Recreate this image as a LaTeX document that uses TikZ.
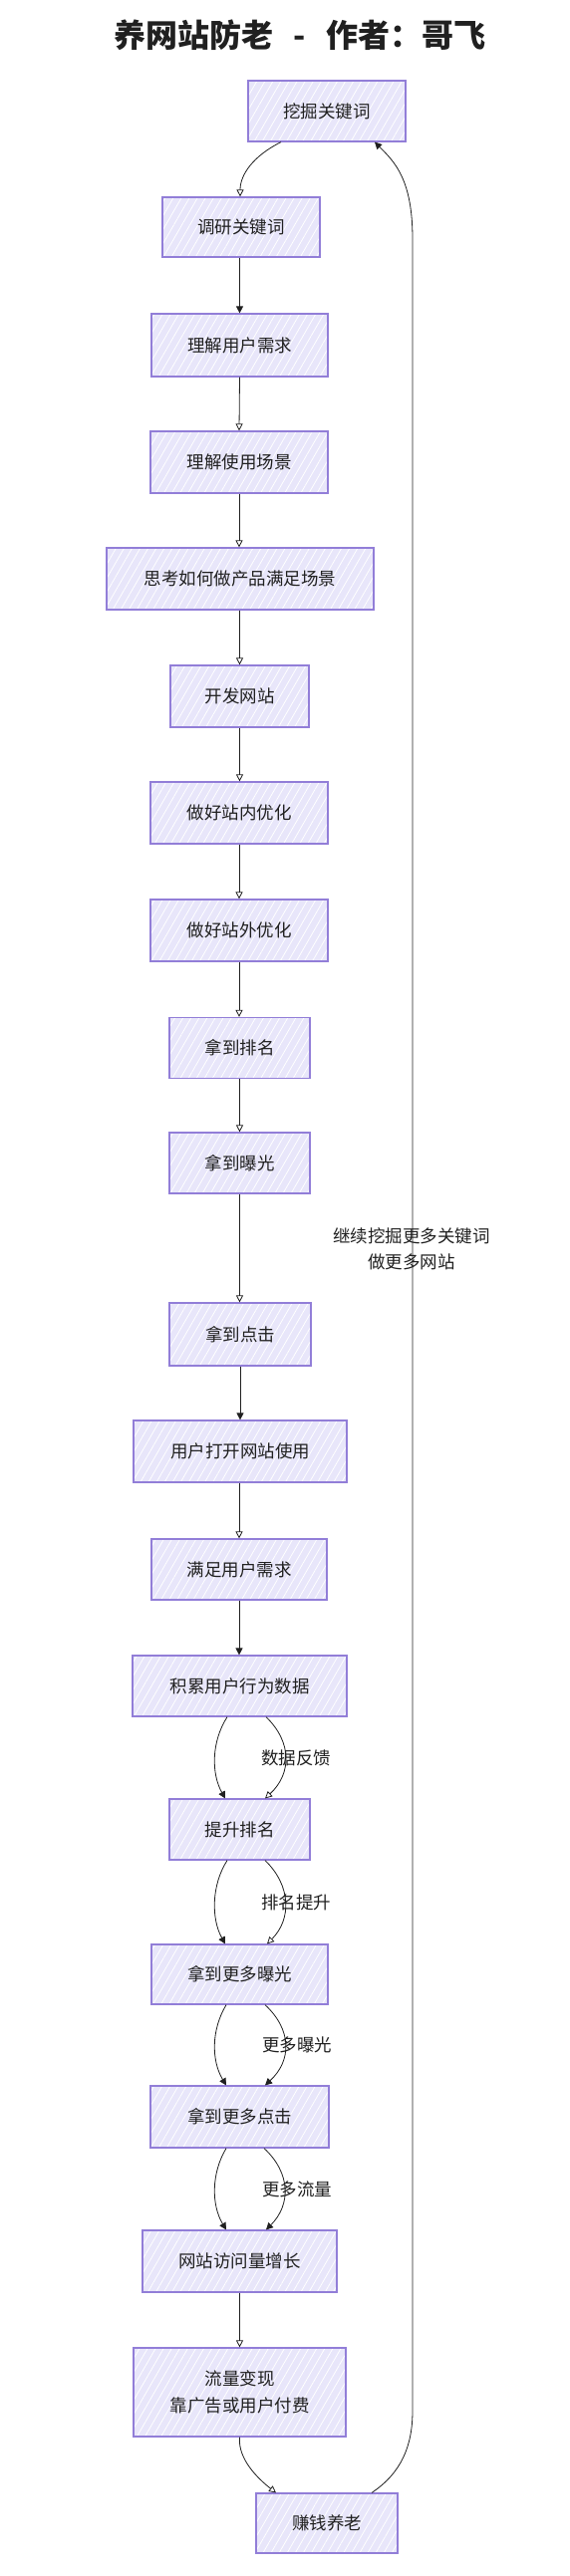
\documentclass[tikz,border=0pt]{standalone}
\usepackage{fontspec}
\setmainfont{Noto Sans CJK SC}
\usetikzlibrary{arrows.meta,patterns.meta,calc}
\definecolor{boxfill}{RGB}{232,230,250}
\definecolor{boxstroke}{RGB}{146,126,216}
\definecolor{ink}{RGB}{32,32,32}
\begin{document}
\begin{tikzpicture}[x=1pt,y=-1pt,
  box/.style={draw=boxstroke, line width=1.2pt, inner sep=0pt, align=center,
    text=ink, font=\fontsize{17.5}{26.5}\selectfont,
    preaction={fill=boxfill},
    preaction={pattern={Lines[angle=60,distance=7pt,line width=0.8pt]}, pattern color=white, fill opacity=0.55}},
  lbl/.style={text=ink, font=\fontsize{17.5}{26.5}\selectfont, align=center, inner sep=0pt},
  conn/.style={draw=ink, line width=0.8pt},
  tipo/.style={conn, -{Triangle[open,length=7pt,width=7pt]}},
  tipf/.style={conn, -{Triangle[length=7pt,width=7pt]}},
]
\useasboundingbox (0,0) rectangle (572,2586);
\fill[white] (0,0) rectangle (572,2586);

\node[text=ink, font=\fontsize{32}{38}\selectfont\bfseries, inner sep=0pt] (title) at (301,35)
  {养网站防老\hspace{20pt}-\hspace{20pt}作者：哥飞};

\node[box, minimum width=158, minimum height=61] (dig)  at (328,111.5) {挖掘关键词};
\node[box, minimum width=158, minimum height=60] (res)  at (242,228) {调研关键词};
\node[box, minimum width=177, minimum height=63] (und)  at (240.5,346.5) {理解用户需求};
\node[box, minimum width=178, minimum height=62] (sce)  at (240,464) {理解使用场景};
\node[box, minimum width=268, minimum height=62] (thk)  at (241,581) {思考如何做产品满足场景};
\node[box, minimum width=139, minimum height=62] (dev)  at (240.5,699) {开发网站};
\node[box, minimum width=178, minimum height=62] (onp)  at (240,816) {做好站内优化};
\node[box, minimum width=178, minimum height=62] (ofp)  at (240,934) {做好站外优化};
\node[box, minimum width=141, minimum height=61] (rank) at (240.5,1052) {拿到排名};
\node[box, minimum width=141, minimum height=61] (expo) at (240.5,1167.5) {拿到曝光};
\node[box, minimum width=142, minimum height=63] (clk)  at (241,1339.5) {拿到点击};
\node[box, minimum width=214, minimum height=62] (open) at (241,1457) {用户打开网站使用};
\node[box, minimum width=176, minimum height=61] (sat)  at (240,1575.5) {满足用户需求};
\node[box, minimum width=215, minimum height=61] (acc)  at (240.5,1692.5) {积累用户行为数据};
\node[box, minimum width=141, minimum height=61] (up)   at (240.5,1836.5) {提升排名};
\node[box, minimum width=177, minimum height=60] (mexp) at (240.5,1982) {拿到更多曝光};
\node[box, minimum width=179, minimum height=62] (mclk) at (240.5,2125) {拿到更多点击};
\node[box, minimum width=195, minimum height=62] (traf) at (240.5,2270) {网站访问量增长};
\node[box, minimum width=213, minimum height=89] (mon)  at (240.5,2401.5) {流量变现\\靠广告或用户付费};
\node[box, minimum width=142, minimum height=60] (earn) at (328,2533) {赚钱养老};

% labels
\node[lbl] (l1) at (297,1765) {数据反馈};
\node[lbl] (l2) at (297,1910) {排名提升};
\node[lbl] (l3) at (298,2053) {更多曝光};
\node[lbl] (l4) at (298,2198) {更多流量};
\node[lbl] (l5) at (413,1254) {继续挖掘更多关键词\\做更多网站};

% top curve
\draw[tipo] ([xshift=-46pt]dig.south) .. controls +(-28,14) and +(0,-22) .. ([xshift=-1pt]res.north);
% straight connectors
\draw[tipf] (res.south -| und.north) -- (und.north);
\draw[tipo] (und.south) -- (sce.north);
\draw[tipo] (sce.south) -- (sce.south |- thk.north);
\draw[tipo] (thk.south -| dev.north) -- (dev.north);
\draw[tipo] (dev.south) -- (dev.south |- onp.north);
\draw[tipo] (onp.south) -- (ofp.north);
\draw[tipo] (ofp.south) -- (ofp.south |- rank.north);
\draw[tipo] (rank.south) -- (expo.north);
\draw[tipo] (expo.south) -- (expo.south |- clk.north);
\draw[tipf] (clk.south) -- (clk.south |- open.north);
\draw[tipo] (open.south -| sat.north) -- (sat.north);
\draw[tipf] (sat.south) -- (sat.south |- acc.north);
\draw[tipo] (traf.south) -- (traf.south |- mon.north);

% double curves
\draw[tipf] ([xshift=-12.5pt]acc.south) .. controls +(-16,25) and +(-14,-25) .. ([xshift=-14.5pt]up.north);
\draw[tipo] ([xshift=26.5pt]acc.south) .. controls +(26,25) and +(27,-25) .. ([xshift=25.5pt]up.north);
\draw[tipf] ([xshift=-12.5pt]up.south) .. controls +(-16,25) and +(-14,-25) .. ([xshift=-14.5pt]mexp.north);
\draw[tipo] ([xshift=25.5pt]up.south) .. controls +(26,25) and +(25,-25) .. ([xshift=27.5pt]mexp.north);
\draw[tipf] ([xshift=-13.5pt]mexp.south) .. controls +(-15,25) and +(-15,-25) .. ([xshift=-13.5pt]mclk.north);
\draw[tipf] ([xshift=25.5pt]mexp.south) .. controls +(27,25) and +(27,-25) .. ([xshift=25.5pt]mclk.north);
\draw[tipf] ([xshift=-13.5pt]mclk.south) .. controls +(-15,25) and +(-15,-25) .. ([xshift=-13.5pt]traf.north);
\draw[tipf] ([xshift=24.5pt]mclk.south) .. controls +(27,25) and +(25,-25) .. ([xshift=26.5pt]traf.north);

% to earn
\draw[tipo] (mon.south) .. controls +(-2,22) and +(-18,-14) .. ([xshift=-51pt]earn.north);

% loop back
\coordinate (lb) at (414,2420);
\coordinate (lt) at (414,240);
\draw[tipf] ([xshift=45pt]earn.north) .. controls +(30,-20) and +(0,35) .. (lb) -- (lt)
  .. controls +(0,-60) and +(20,20) .. ([xshift=48pt]dig.south);
\end{tikzpicture}
\end{document}
